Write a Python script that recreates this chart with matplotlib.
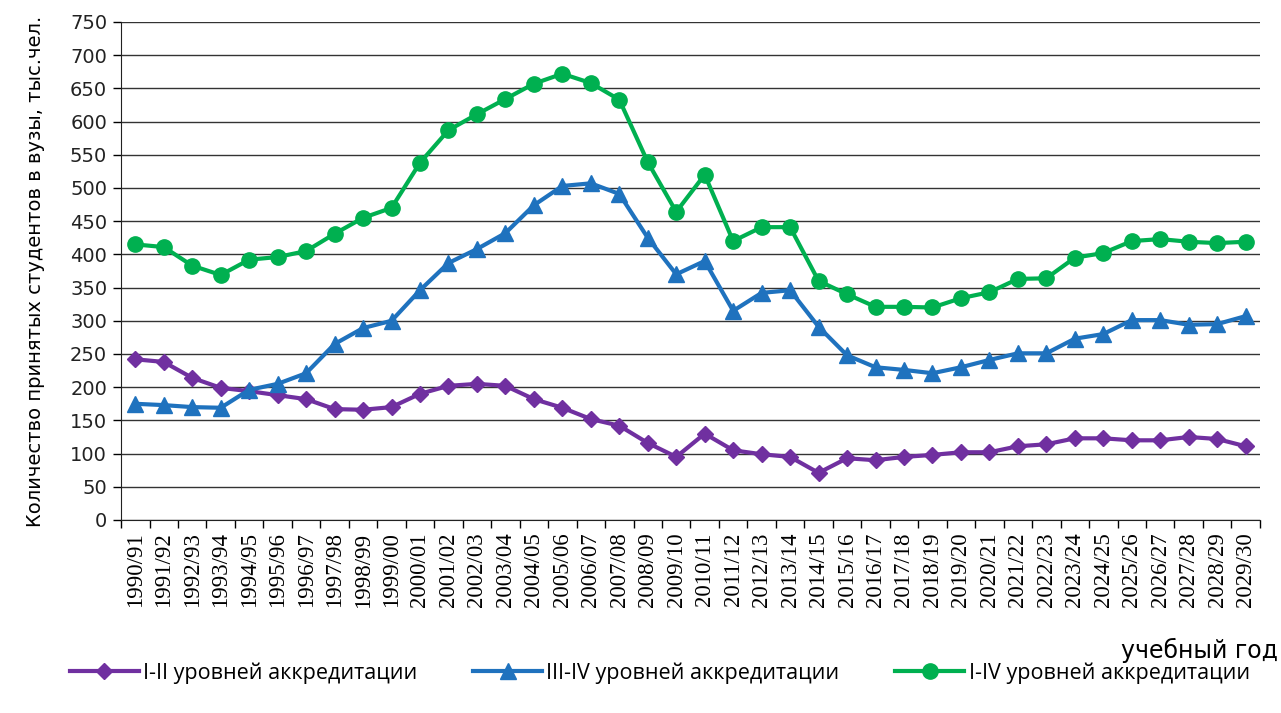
import matplotlib
matplotlib.use("Agg")
import matplotlib.pyplot as plt

years = ["1990/91","1991/92","1992/93","1993/94","1994/95","1995/96","1996/97","1997/98","1998/99","1999/00",
         "2000/01","2001/02","2002/03","2003/04","2004/05","2005/06","2006/07","2007/08","2008/09","2009/10",
         "2010/11","2011/12","2012/13","2013/14","2014/15","2015/16","2016/17","2017/18","2018/19","2019/20",
         "2020/21","2021/22","2022/23","2023/24","2024/25","2025/26","2026/27","2027/28","2028/29","2029/30"]

lvl_1_2 = [242, 238, 214, 199, 194, 188, 182, 167, 166, 170,
           190, 202, 205, 202, 182, 169, 152, 142, 116, 95,
           130, 105, 99, 95, 71, 93, 90, 95, 98, 102,
           102, 111, 114, 123, 123, 120, 120, 125, 122, 111]
lvl_3_4 = [175, 173, 170, 169, 196, 205, 221, 265, 289, 300,
           346, 387, 408, 432, 474, 503, 507, 491, 425, 370,
           390, 315, 342, 346, 291, 248, 230, 226, 221, 230,
           241, 251, 251, 273, 280, 301, 301, 294, 295, 307]
lvl_1_4 = [415, 411, 383, 369, 392, 396, 405, 431, 455, 470,
           538, 587, 611, 634, 657, 672, 658, 633, 539, 464,
           520, 420, 441, 441, 360, 340, 321, 321, 320, 334,
           343, 363, 364, 395, 402, 420, 423, 419, 417, 419]

labels = ["I-II уровней аккредитации", "III-IV уровней аккредитации", "I-IV уровней аккредитации"]
y_ticks = list(range(0, 751, 50))

fig = plt.figure(figsize=(12.81, 7.13), dpi=100)
ax = fig.add_axes([0.0945, 0.2707, 0.889, 0.6985])

x = list(range(len(years)))
ax.plot(x, lvl_1_2, color="#7030A0", lw=3, marker="D", ms=8, label=labels[0], zorder=3)
ax.plot(x, lvl_3_4, color="#1F72BE", lw=3, marker="^", ms=11, label=labels[1], zorder=3)
ax.plot(x, lvl_1_4, color="#00B050", lw=3, marker="o", ms=11, label=labels[2], zorder=3)

ax.set_xlim(-0.5, len(years) - 0.5)
ax.set_ylim(0, 750)
ax.set_yticks(y_ticks)
ax.set_yticklabels([str(v) for v in y_ticks], fontsize=14, family="DejaVu Sans", color="#222222")
ax.set_xticks(x)
ax.set_xticklabels(years, rotation=90, fontsize=16.5, family="Liberation Serif")
ax.set_xticks([i - 0.5 for i in range(len(years) + 1)], minor=True)
ax.tick_params(axis="x", which="major", length=0, pad=9)
ax.tick_params(axis="x", which="minor", length=6, width=1, direction="out")
ax.tick_params(axis="y", length=6, width=1, direction="out", pad=4)
ax.grid(axis="y", color="#333333", lw=1)
ax.set_axisbelow(True)
for s in ["top", "right"]:
    ax.spines[s].set_visible(False)
ax.spines["left"].set_color("#222222")
ax.spines["bottom"].set_color("#222222")

ax.set_ylabel("Количество принятых студентов в вузы, тыс.чел.", fontsize=14, family="DejaVu Sans", labelpad=18)
fig.text(0.998, 0.07, "учебный год", ha="right", va="bottom", fontsize=17, family="DejaVu Sans")

fig.legend(loc="lower center", bbox_to_anchor=(0.515, 0.014), ncol=3, frameon=False,
           prop={"family": "Open Sans", "size": 15.5}, handlelength=3.2, columnspacing=2.6, handletextpad=0.2)

fig.savefig("out.png", dpi=100)
